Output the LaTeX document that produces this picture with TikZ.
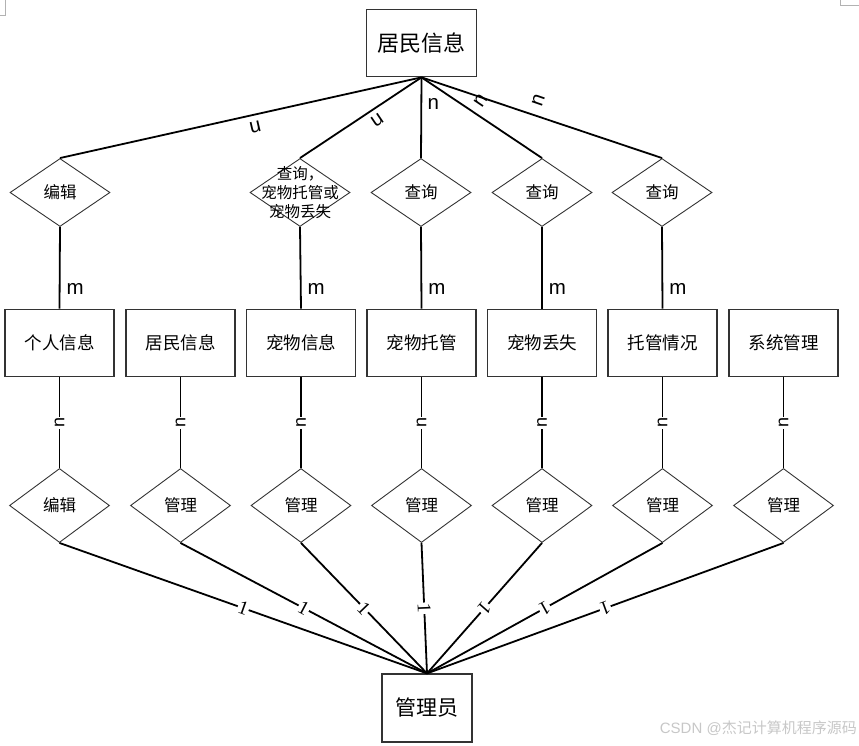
\documentclass[tikz,border=0pt]{standalone}
\usepackage{fontspec}
\setmainfont{Liberation Sans}
\newfontfamily\cjk{Noto Sans CJK SC}
\newfontfamily\serifnum{Liberation Serif}
\usetikzlibrary{shapes.geometric}
\begin{document}
\begin{tikzpicture}[x=1pt,y=-1pt,
  ent/.style={draw=black!80, line width=1.2pt, minimum width=109pt, minimum height=67.5pt, inner sep=0pt, font=\cjk\fontsize{17.5}{20}\selectfont},
  bigent/.style={ent, font=\cjk\fontsize{22}{24}\selectfont},
  rel/.style={diamond, draw=black!80, line width=0.9pt, minimum width=100pt, minimum height=68pt, inner sep=0pt},
  rellab/.style={font=\cjk\fontsize{16.5}{19}\selectfont, align=center, inner sep=0pt},
  conn/.style={line width=1.8pt, black},
  card/.style={font=\fontsize{20.5}{22}\selectfont, inner sep=1pt},
  ncard/.style={font=\fontsize{18}{20}\selectfont, inner sep=1pt, fill=white, rotate=90},
  onecard/.style={font=\serifnum\fontsize{19.5}{20}\selectfont, inner sep=0.8pt, fill=white, sloped, allow upside down},
  frame/.style={draw=black!30, line width=0.8pt}
]
\useasboundingbox (0,0) rectangle (859,746);
% screenshot corner marks
\coordinate (tl1) at (5,0); \coordinate (tl2) at (5,15); \coordinate (tl3) at (0,15);
\draw[frame] (tl1) -- (tl2) -- (tl3);
\coordinate (tr1) at (840,0); \coordinate (tr2) at (840,5); \coordinate (tr3) at (859,5);
\draw[frame] (tr1) -- (tr2) -- (tr3);

% top entity
\node[bigent, minimum width=110pt] (top) at (421.5,43) {居民信息};

% first row of relationships
\node[rel, label={[rellab]center:编辑}] (r1a) at (60,192.5) {};
\node[rel, label={[rellab, font=\cjk\fontsize{15.5}{19}\selectfont]center:{查询，\\宠物托管或\\宠物丢失}}] (r1b) at (300,192.5) {};
\node[rel, label={[rellab]center:查询}] (r1c) at (421,192.5) {};
\node[rel, label={[rellab]center:查询}] (r1d) at (542,192.5) {};
\node[rel, label={[rellab]center:查询}] (r1e) at (662,192.5) {};

% middle entities
\node[ent] (e1) at (59.5,343) {个人信息};
\node[ent] (e2) at (180.5,343) {居民信息};
\node[ent] (e3) at (301,343) {宠物信息};
\node[ent] (e4) at (421.5,343) {宠物托管};
\node[ent] (e5) at (542,343) {宠物丢失};
\node[ent] (e6) at (662.5,343) {托管情况};
\node[ent] (e7) at (783.5,343) {系统管理};

% second row of relationships
\node[rel, minimum height=74pt, label={[rellab]center:编辑}] (r2a) at (59.5,505.5) {};
\node[rel, minimum height=74pt, label={[rellab]center:管理}] (r2b) at (180.5,505.5) {};
\node[rel, minimum height=74pt, label={[rellab]center:管理}] (r2c) at (301,505.5) {};
\node[rel, minimum height=74pt, label={[rellab]center:管理}] (r2d) at (421.5,505.5) {};
\node[rel, minimum height=74pt, label={[rellab]center:管理}] (r2e) at (542,505.5) {};
\node[rel, minimum height=74pt, label={[rellab]center:管理}] (r2f) at (662.5,505.5) {};
\node[rel, minimum height=74pt, label={[rellab]center:管理}] (r2g) at (783.5,505.5) {};

% bottom entity
\node[ent, minimum width=90pt, minimum height=68pt, font=\cjk\fontsize{21}{24}\selectfont] (adm) at (427,708) {管理员};

% top connectors
\draw[conn] (top.south) -- node[card, pos=0.46, shift={(0,13)}, rotate=193] {n} (r1a.north);
\draw[conn] (top.south) -- node[card, pos=0.364, shift={(0,13.5)}, rotate=214] {n} (r1b.north);
\draw[conn] (top.south) -- node[card, pos=0.33, shift={(12,0)}] {n} (r1c.north);
\draw[conn] (top.south) -- node[card, pos=0.49, shift={(0,-16)}, rotate=56] {n} (r1d.north);
\draw[conn] (top.south) -- node[card, pos=0.485, shift={(0,-16)}, rotate=71] {n} (r1e.north);

% relationship -> entity (m)
\draw[conn] (r1a.south) -- node[card, pos=0.76, anchor=west, xshift=5pt] {m} (e1.north);
\draw[conn] (r1b.south) -- node[card, pos=0.76, anchor=west, xshift=5pt] {m} (e3.north);
\draw[conn] (r1c.south) -- node[card, pos=0.76, anchor=west, xshift=5pt] {m} (e4.north);
\draw[conn] (r1d.south) -- node[card, pos=0.76, anchor=west, xshift=5pt] {m} (e5.north);
\draw[conn] (r1e.south) -- node[card, pos=0.76, anchor=west, xshift=5pt] {m} (e6.north);

% entity -> second relationships (n)
\foreach \e/\r in {e1/r2a,e2/r2b,e3/r2c,e4/r2d,e5/r2e,e6/r2f,e7/r2g}{
  \draw[conn] (\e.south) -- node[ncard, pos=0.5] {n} (\r.north);
}

% second relationships -> admin (1)
\foreach \r in {r2a,r2b,r2c,r2d,r2e,r2f,r2g}{
  \draw[conn] (\r.south) -- node[onecard, pos=0.5] {1} (adm.north);
}

% watermark
\node[anchor=base east, inner sep=0pt, text=black!22, font=\fontsize{15}{17}\selectfont] (wm) at (857,733) {CSDN @{\cjk 杰记计算机程序源码}};
\end{tikzpicture}
\end{document}
